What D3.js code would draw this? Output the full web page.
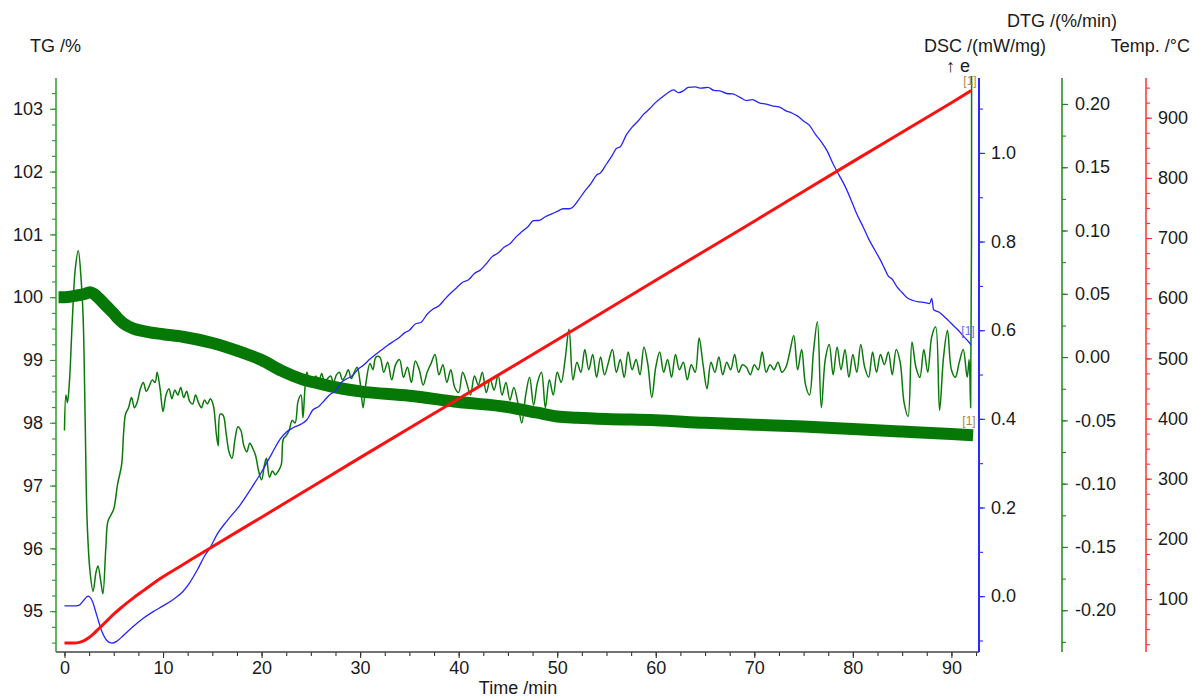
<!DOCTYPE html>
<html>
<head>
<meta charset="utf-8">
<script src="https://cdn.jsdelivr.net/npm/d3@7"></script>
<style>
  body { margin: 0; background: #fff; }
  text { font-family: "Liberation Sans", Arial, sans-serif; fill: #1a1a1a; }
</style>
</head>
<body>
<div id="chart"></div>
<script>
// temperature programme (time /min, Temp /°C)
const tempTime = [0, 1, 1.5, 2, 2.5, 3, 3.5, 4, 4.5, 5, 6, 7, 8, 9, 10, 12, 15, 20, 30, 40, 50, 60, 70, 80, 90, 92];
const tempValue = [27, 27, 28, 31, 36, 43, 51, 59, 67, 75, 89, 102, 114, 126, 137, 157, 187, 236, 335, 433, 531, 630, 728, 827, 925, 945];

// TG /%
const tgTime = [-0.6, 0, 1, 2, 2.6, 3, 3.5, 4, 4.5, 5, 5.5, 6, 7, 8, 10, 12, 15, 18, 20, 22, 24, 26, 28, 30, 35, 40, 45, 48, 50, 52, 55, 60, 65, 70, 75, 80, 85, 90, 92.2];
const tgValue = [100.0, 100.0, 100.02, 100.05, 100.08, 100.05, 99.98, 99.9, 99.82, 99.74, 99.65, 99.58, 99.5, 99.46, 99.41, 99.37, 99.27, 99.12, 99.0, 98.83, 98.7, 98.62, 98.55, 98.5, 98.43, 98.33, 98.25, 98.16, 98.1, 98.08, 98.06, 98.04, 98.0, 97.97, 97.94, 97.9, 97.86, 97.82, 97.8];

// DSC /(mW/mg)
const dscTime = [0, 1, 1.5, 2, 2.4, 2.8, 3.3, 3.8, 4.3, 4.8, 5.3, 6, 7, 8, 9, 10, 11, 12, 12.7, 13.5, 14.2, 14.8, 15.5, 16.5, 17.8, 19, 20, 21, 21.9, 22.5, 23.2, 24, 24.6,
  25.2, 25.8, 26.4, 27.0, 27.5, 28.0, 28.6, 29.2, 29.8, 30.4, 31.0, 31.6, 32.2, 32.8, 33.4, 34.0, 34.5, 35.0, 35.6, 36.2, 36.8, 37.4, 38.0, 38.6, 39.2, 39.8,
  40.4, 41.0, 41.6, 42.2, 42.8, 43.4, 44.0, 44.6, 45.2, 45.8, 46.4, 47.0, 47.6, 48.2, 48.8, 49.4, 50.0, 50.6, 51.2, 51.6, 52.2, 52.8, 53.4, 54.0, 54.4, 55.0,
  55.6, 56.0, 56.4, 57.0, 57.6, 58.2, 58.8, 59.4, 60.0, 60.6, 61.2, 61.8, 62.3, 62.8, 63.3, 64.0, 64.6, 65.3, 65.9, 66.5, 67.2, 67.8, 68.5, 69.2, 69.8, 70.5,
  71.2, 71.8, 72.5, 73.2, 73.8, 74.4, 75.0, 75.6, 76.2, 76.8, 77.4, 78.0, 78.6, 79.2, 79.8, 80.4, 81.0, 81.6, 82.2, 82.8, 83.2, 83.6, 84.0, 84.5, 85.0, 85.5,
  86.1, 86.7, 87.2, 87.8, 88.0, 88.2, 88.8, 89.4, 90.0, 90.6, 91.2, 91.7, 92.0];
const dscValue = [-0.022, -0.022, -0.02, -0.008, 0.0, -0.01, -0.045, -0.08, -0.1, -0.106, -0.102, -0.088, -0.068, -0.05, -0.035, -0.022, -0.008, 0.01, 0.03, 0.06, 0.09, 0.11, 0.14, 0.17, 0.205, 0.245, 0.28, 0.32, 0.355, 0.37, 0.38, 0.388, 0.398,
  0.42, 0.428, 0.442, 0.456, 0.462, 0.48, 0.49, 0.497, 0.512, 0.522, 0.535, 0.546, 0.556, 0.566, 0.575, 0.584, 0.594, 0.6, 0.614, 0.618, 0.636, 0.648, 0.655, 0.67, 0.684, 0.696,
  0.708, 0.714, 0.728, 0.736, 0.75, 0.766, 0.774, 0.787, 0.795, 0.81, 0.822, 0.833, 0.847, 0.848, 0.856, 0.862, 0.868, 0.874, 0.874, 0.878, 0.895, 0.914, 0.93, 0.95, 0.955, 0.975,
  0.995, 1.01, 1.014, 1.04, 1.058, 1.072, 1.088, 1.1, 1.114, 1.125, 1.135, 1.142, 1.136, 1.14, 1.148, 1.149, 1.146, 1.148, 1.141, 1.14, 1.134, 1.133, 1.126, 1.118, 1.12, 1.113,
  1.11, 1.106, 1.104, 1.095, 1.09, 1.083, 1.072, 1.062, 1.042, 1.025, 1.004, 0.975, 0.95, 0.925, 0.895, 0.862, 0.835, 0.806, 0.782, 0.758, 0.74, 0.722, 0.715, 0.697, 0.685, 0.673,
  0.667, 0.664, 0.663, 0.66, 0.672, 0.646, 0.64, 0.628, 0.615, 0.602, 0.587, 0.575, 0.567];

// DTG /(%/min), first part (irregular sampling)
const dtgEarlyTime = [0, 0.15, 0.3, 0.5, 0.8, 1.1, 1.4, 1.7, 1.9, 2.1, 2.3, 2.6, 2.9, 3.2, 3.4, 3.7, 3.9, 4.2, 4.4, 4.7, 5, 5.4, 5.8, 6, 6.2, 6.5, 6.8, 7.1, 7.4, 7.7, 8, 8.3, 8.6, 8.9, 9.2, 9.4, 9.7, 10, 10.3, 10.6, 10.9, 11.2, 11.5, 11.8, 12.1, 12.4, 12.7, 13, 13.3, 13.6, 13.9, 14.2, 14.5, 14.8, 15.1, 15.4, 15.6, 15.8, 16.1, 16.4, 16.7, 17, 17.3, 17.6, 17.9, 18.2, 18.5, 18.8, 19.1, 19.4, 19.7, 20, 20.3, 20.5, 20.8, 21.1, 21.4, 21.7, 22, 22.2, 22.5, 22.8, 23.1, 23.4, 23.7, 24, 24.2, 24.4, 24.6, 24.9, 25.2, 25.5, 25.8, 26.1, 26.4, 26.7, 27, 27.3, 27.6, 27.9, 28.2, 28.5, 28.8, 29.1, 29.4, 29.7, 30, 30.3, 30.6, 31, 31.3, 31.6];
const dtgEarlyValue = [-0.058, -0.03, -0.036, -0.02, 0.03, 0.07, 0.084, 0.06, 0.03, -0.05, -0.13, -0.17, -0.185, -0.17, -0.165, -0.178, -0.187, -0.15, -0.13, -0.125, -0.12, -0.1, -0.085, -0.06, -0.045, -0.04, -0.032, -0.04, -0.035, -0.025, -0.02, -0.027, -0.023, -0.018, -0.02, -0.012, -0.025, -0.043, -0.03, -0.025, -0.033, -0.026, -0.03, -0.024, -0.032, -0.027, -0.035, -0.037, -0.03, -0.036, -0.04, -0.034, -0.037, -0.033, -0.038, -0.06, -0.07, -0.045, -0.046, -0.06, -0.075, -0.08, -0.065, -0.055, -0.058, -0.07, -0.075, -0.068, -0.072, -0.078, -0.09, -0.097, -0.085, -0.08, -0.095, -0.09, -0.093, -0.09, -0.085, -0.065, -0.062, -0.058, -0.05, -0.052, -0.035, -0.03, -0.048, -0.025, -0.012, -0.02, -0.02, -0.015, -0.02, -0.013, -0.02, -0.017, -0.015, -0.02, -0.014, -0.012, -0.018, -0.015, -0.01, -0.017, -0.012, -0.008, -0.02, -0.04, -0.02, -0.005, -0.01, 0.0];

// DTG second part, one reading every 0.4 min from 32.0 min
const dtgLateStart = 32.0;
const dtgLateStep = 0.4;
const dtgLateValue = [
  0.000, -0.012, -0.004, -0.018, -0.006, -0.002, -0.016, -0.008, -0.020, -0.003,
  -0.010, -0.022, -0.012, -0.005, 0.002, -0.014, -0.006, -0.020, -0.010, -0.024,
  -0.028, -0.012, -0.020, -0.030, -0.015, -0.022, -0.012, -0.028, -0.018, -0.026,
  -0.014, -0.030, -0.020, -0.034, -0.024, -0.036, -0.052, -0.030, -0.016, -0.038,
  -0.020, -0.012, -0.040, -0.018, -0.030, -0.012, -0.020, -0.002, 0.022, -0.018,
  -0.004, -0.012, 0.006, -0.010, 0.002, -0.016, 0.000, -0.014, -0.004, 0.006,
  -0.012, -0.002, -0.016, 0.004, -0.010, -0.002, -0.014, 0.008, -0.006, -0.032,
  -0.008, 0.004, -0.012, -0.002, -0.016, 0.002, -0.010, -0.004, -0.018, -0.006,
  -0.012, 0.015, -0.006, -0.025, -0.004, -0.012, 0.000, -0.014, -0.004, -0.010,
  0.002, -0.012, -0.006, -0.008, -0.014, -0.006, -0.010, 0.004, -0.012, -0.006,
  -0.010, -0.004, -0.012, -0.008, 0.004, 0.017, -0.010, 0.006, -0.022, -0.030,
  0.004, 0.028, -0.040, -0.002, 0.010, -0.014, 0.008, -0.010, 0.006, -0.016,
  0.002, -0.012, 0.010, -0.008, -0.016, 0.004, -0.012, 0.002, -0.006, 0.004,
  -0.014, 0.006, -0.004, -0.036, -0.047, 0.012, -0.008, -0.016, 0.006, -0.012,
  0.016, 0.024, -0.042, 0.000, 0.021, -0.010, -0.016, -0.004, 0.006, -0.016
];
// final points, with the jump at the end of the run
const dtgEndTime = [91.8, 91.95, 92.05];
const dtgEndValue = [-0.002, -0.040, 0.222];

const timeMajor = [0, 10, 20, 30, 40, 50, 60, 70, 80, 90];
const tgMajor = [95, 96, 97, 98, 99, 100, 101, 102, 103];
const dscMajor = [0.0, 0.2, 0.4, 0.6, 0.8, 1.0];
const dtgMajor = [-0.20, -0.15, -0.10, -0.05, 0.00, 0.05, 0.10, 0.15, 0.20];
const tempMajor = [100, 200, 300, 400, 500, 600, 700, 800, 900];

const W = 1192, H = 697;
const pL = 56, pR = 979, pT = 78, pB = 652;

const svg = d3.select("#chart").append("svg")
    .attr("width", W)
    .attr("height", H)

const x = d3.scaleLinear().domain([-0.86, 92.8]).range([pL, pR])
const yTG = d3.scaleLinear().domain([94.35, 103.49]).range([pB, pT])
const yDSC = d3.scaleLinear().domain([-0.126, 1.169]).range([pB, pT])
const yDTG = d3.scaleLinear().domain([-0.233, 0.2205]).range([pB, pT])
const yT = d3.scaleLinear().domain([12, 966]).range([pB, pT])

const minus = f => (d => f(d).replace("\u2212", "-"))

// an axis = minor ticks + major ticks with labels + own line
function drawAxis(g, axisFn, scale, major, minor, fmt, color, pad) {
  g.append("g").call(axisFn(scale).tickValues(minor).tickSize(4).tickFormat(""))
  g.append("g").call(axisFn(scale).tickValues(major).tickSize(6).tickPadding(pad).tickFormat(fmt))
  g.selectAll(".domain").remove()
  g.selectAll(".tick line").attr("stroke", color).attr("stroke-width", 1.1)
  g.selectAll(".tick text").style("font-size", "18px").attr("fill", "#1a1a1a")
}

// x axis
const gx = svg.append("g").attr("transform", `translate(0,${pB})`)
drawAxis(gx, d3.axisBottom, x, timeMajor, d3.range(0, 92.6, 2.5), d3.format("d"), "#333", 3)
gx.append("line").attr("x1", pL).attr("x2", pR).attr("stroke", "#444").attr("stroke-width", 1.5)

// TG axis (left)
const gTG = svg.append("g").attr("transform", `translate(${pL},0)`)
drawAxis(gTG, d3.axisLeft, yTG, tgMajor, d3.range(94.5, 103.49, 0.25), d3.format("d"), "#2e9b2e", 7)
gTG.append("line").attr("y1", pT).attr("y2", pB).attr("stroke", "#2e9b2e").attr("stroke-width", 1.5)

// DSC axis
const gDSC = svg.append("g").attr("transform", `translate(${pR},0)`)
drawAxis(gDSC, d3.axisRight, yDSC, dscMajor, d3.range(-0.1, 1.15, 0.1), d3.format(".1f"), "#2a2aff", 6)
gDSC.append("line").attr("y1", pT).attr("y2", pB).attr("stroke", "#2a2aff").attr("stroke-width", 2)

// DTG axis
const gDTG = svg.append("g").attr("transform", "translate(1062,0)")
drawAxis(gDTG, d3.axisRight, yDTG, dtgMajor, d3.range(-0.225, 0.21, 0.025), minus(d3.format(".2f")), "#1a8a1a", 7)
gDTG.append("line").attr("y1", pT).attr("y2", pB).attr("stroke", "#1a8a1a").attr("stroke-width", 1.5)

// Temp axis
const gT = svg.append("g").attr("transform", "translate(1146,0)")
drawAxis(gT, d3.axisRight, yT, tempMajor, d3.range(25, 960, 25), d3.format("d"), "#ff3030", 6)
gT.append("line").attr("y1", pT).attr("y2", pB).attr("stroke", "#ff3030").attr("stroke-width", 1.5)

// axis titles
const title = (t, px, py, anchor) => svg.append("text").text(t)
    .attr("x", px).attr("y", py).attr("text-anchor", anchor).style("font-size", "18px")
title("TG /%", 30, 52, "start")
title("DTG /(%/min)", 1062, 27, "middle")
title("DSC /(mW/mg)", 1046, 52, "end")
title("Temp. /°C", 1190, 52, "end")
title("Time /min", 518, 694, "middle")
title("\u2191 e", 946, 72, "start")

// clip to plot area
svg.append("clipPath").attr("id", "plot")
  .append("rect").attr("x", pL).attr("y", pT - 2).attr("width", pR - pL).attr("height", pB - pT + 2)
const plot = svg.append("g").attr("clip-path", "url(#plot)")

const zip = (ts, vs) => ts.map((t, i) => [t, vs[i]])

// TG
plot.append("path")
  .datum(zip(tgTime, tgValue))
  .attr("fill", "none")
  .attr("stroke", "#067806")
  .attr("stroke-width", 12)
  .attr("d", d3.line().x(d => x(d[0])).y(d => yTG(d[1])).curve(d3.curveMonotoneX))

// DTG
const dtgData = zip(dtgEarlyTime, dtgEarlyValue)
  .concat(dtgLateValue.map((v, i) => [dtgLateStart + i * dtgLateStep, v]))
  .concat(zip(dtgEndTime, dtgEndValue))
plot.append("path")
  .datum(dtgData)
  .attr("fill", "none")
  .attr("stroke", "#0b7a0b")
  .attr("stroke-width", 1.5)
  .attr("stroke-linejoin", "round")
  .attr("d", d3.line().x(d => x(d[0])).y(d => yDTG(d[1])).curve(d3.curveCatmullRom))

// DSC
plot.append("path")
  .datum(zip(dscTime, dscValue))
  .attr("fill", "none")
  .attr("stroke", "#2424ff")
  .attr("stroke-width", 1.3)
  .attr("d", d3.line().x(d => x(d[0])).y(d => yDSC(d[1])).curve(d3.curveMonotoneX))

// Temperature
plot.append("path")
  .datum(zip(tempTime, tempValue))
  .attr("fill", "none")
  .attr("stroke", "#ff1010")
  .attr("stroke-width", 3)
  .attr("d", d3.line().x(d => x(d[0])).y(d => yT(d[1])).curve(d3.curveMonotoneX))

// curve end markers
const mark = (px, py, c) => svg.append("text").text("[1]")
    .attr("x", px).attr("y", py).attr("text-anchor", "middle")
    .style("font-size", "12px").style("fill", c)
mark(970, 85, "#b08a30")
mark(968, 335, "#6a6aff")
mark(969, 425, "#a08a40")
</script>
</body>
</html>
